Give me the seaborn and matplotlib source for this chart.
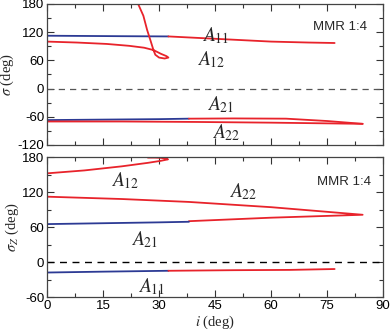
import matplotlib
matplotlib.use("Agg")
import matplotlib.pyplot as plt
import numpy as np
import pandas as pd
import seaborn as sns
from matplotlib.ticker import MultipleLocator

RED = "#e8232b"
BLUE = "#2c3a94"

# ---- top panel: sigma vs i ----
a11_blue_i = [0, 10, 20, 32.5]
a11_blue_s = [112.5, 112, 111.5, 111]
a11_red_i = [32.5, 40, 50, 60, 70, 77]
a11_red_s = [111, 108, 104, 100, 98, 97]

a12_i = [0, 8, 16, 22, 26, 28.5, 30.5, 32, 32.5, 31.5, 30, 29, 28.5, 27.8, 26.8, 25.8, 24.4]
a12_s = [100, 98, 95, 91, 87, 82, 74, 69, 66, 64, 66, 72, 82, 100, 125, 155, 180]

a21_blue_i = [0, 15, 30, 38]
a21_blue_s = [-67, -66, -65, -64]
a21_red_i = [38, 50, 64, 75, 84.5]
a21_red_s = [-64, -63.5, -64, -69, -75]

a22_i = [0, 20, 40, 60, 75, 84.5]
a22_s = [-70, -70, -71, -72.5, -74, -75]

# ---- bottom panel: sigma_Z vs i ----
b12_i = [0, 10, 20, 27, 30.5, 32.4, 31.8, 30.5, 29, 27]
b12_s = [152, 157, 164, 170, 173.5, 176, 177.5, 178.5, 179, 179]

b22_i = [0, 20, 38, 60, 84.5, 60, 38]
b22_s = [112, 108, 103, 94, 81, 76, 70]

b21_blue_i = [0, 15, 30, 38]
b21_blue_s = [65, 66.5, 68, 69]

b11_blue_i = [0, 15, 32.5]
b11_blue_s = [-18, -16.5, -15]
b11_red_i = [32.5, 50, 65, 77]
b11_red_s = [-15, -14, -13.5, -12]

sns.set_style("ticks")
plt.rcParams["font.family"] = ["Liberation Sans", "DejaVu Sans"]
plt.rcParams["mathtext.fontset"] = "stix"
plt.rcParams["axes.unicode_minus"] = False

fig = plt.figure(figsize=(3.9, 3.36), dpi=100)
ax1 = fig.add_axes([0.1205, 0.5685, 0.862, 0.4196])
ax2 = fig.add_axes([0.1205, 0.116, 0.862, 0.4167])


def curve(ax, xs, ys, color):
    df = pd.DataFrame({"i": xs, "s": ys})
    sns.lineplot(data=df, x="i", y="s", sort=False, estimator=None,
                 color=color, lw=1.3, ax=ax)


curve(ax1, a11_blue_i, a11_blue_s, BLUE)
curve(ax1, a11_red_i, a11_red_s, RED)
curve(ax1, a12_i, a12_s, RED)
curve(ax1, a21_blue_i, a21_blue_s, BLUE)
curve(ax1, a21_red_i, a21_red_s, RED)
curve(ax1, a22_i, a22_s, RED)
ax1.axhline(0, color="#555555", ls=(0, (5, 4)), lw=0.9)

curve(ax2, b12_i, b12_s, RED)
curve(ax2, b22_i, b22_s, RED)
curve(ax2, b21_blue_i, b21_blue_s, BLUE)
curve(ax2, b11_blue_i, b11_blue_s, BLUE)
curve(ax2, b11_red_i, b11_red_s, RED)
ax2.axhline(0, color="black", ls=(0, (5, 4)), lw=1.0)

lab = dict(fontsize=14, ha="center", va="center")
ax1.text(45, 112, r"$A_{11}$", **lab)
ax1.text(44, 61, r"$A_{12}$", **lab)
ax1.text(46.5, -35, r"$A_{21}$", **lab)
ax1.text(48, -94, r"$A_{22}$", **lab)
ax1.text(78.5, 131, "MMR 1:4", fontsize=9.5, ha="center", va="center")

ax2.text(21, 140, r"$A_{12}$", **lab)
ax2.text(52.5, 120, r"$A_{22}$", **lab)
ax2.text(26, 38, r"$A_{21}$", **lab)
ax2.text(28, -43, r"$A_{11}$", **lab)
ax2.text(79.5, 137, "MMR 1:4", fontsize=9.5, ha="center", va="center")

ax1.set_ylim(-120, 180)
ax2.set_ylim(-60, 180)
for ax in (ax1, ax2):
    ax.set_xlim(0, 90)
    ax.xaxis.set_major_locator(MultipleLocator(15))
    ax.xaxis.set_minor_locator(MultipleLocator(7.5))
    ax.yaxis.set_major_locator(MultipleLocator(60))
    ax.yaxis.set_minor_locator(MultipleLocator(30))
    ax.tick_params(which="both", direction="in", top=True, right=True,
                   labelsize=9.5, colors="#333333", labelcolor="black", pad=2)
    ax.tick_params(which="major", length=5, width=0.8)
    ax.tick_params(which="minor", length=3, width=0.8)
    for sp in ax.spines.values():
        sp.set_visible(True)
        sp.set_color("#444444")
        sp.set_linewidth(0.9)
    ax.set_xlabel("")
    ax.set_ylabel("")

ax1.tick_params(labelbottom=False)
ax1.set_ylabel(r"$\sigma$ (deg)", family="Liberation Serif", fontsize=10.5, labelpad=1)
ax2.set_ylabel(r"$\sigma_Z$ (deg)", family="Liberation Serif", fontsize=10.5, labelpad=1)
ax2.set_xlabel(r"$i$ (deg)", family="Liberation Serif", fontsize=10.5, labelpad=1)

fig.savefig("out.png", dpi=100)
